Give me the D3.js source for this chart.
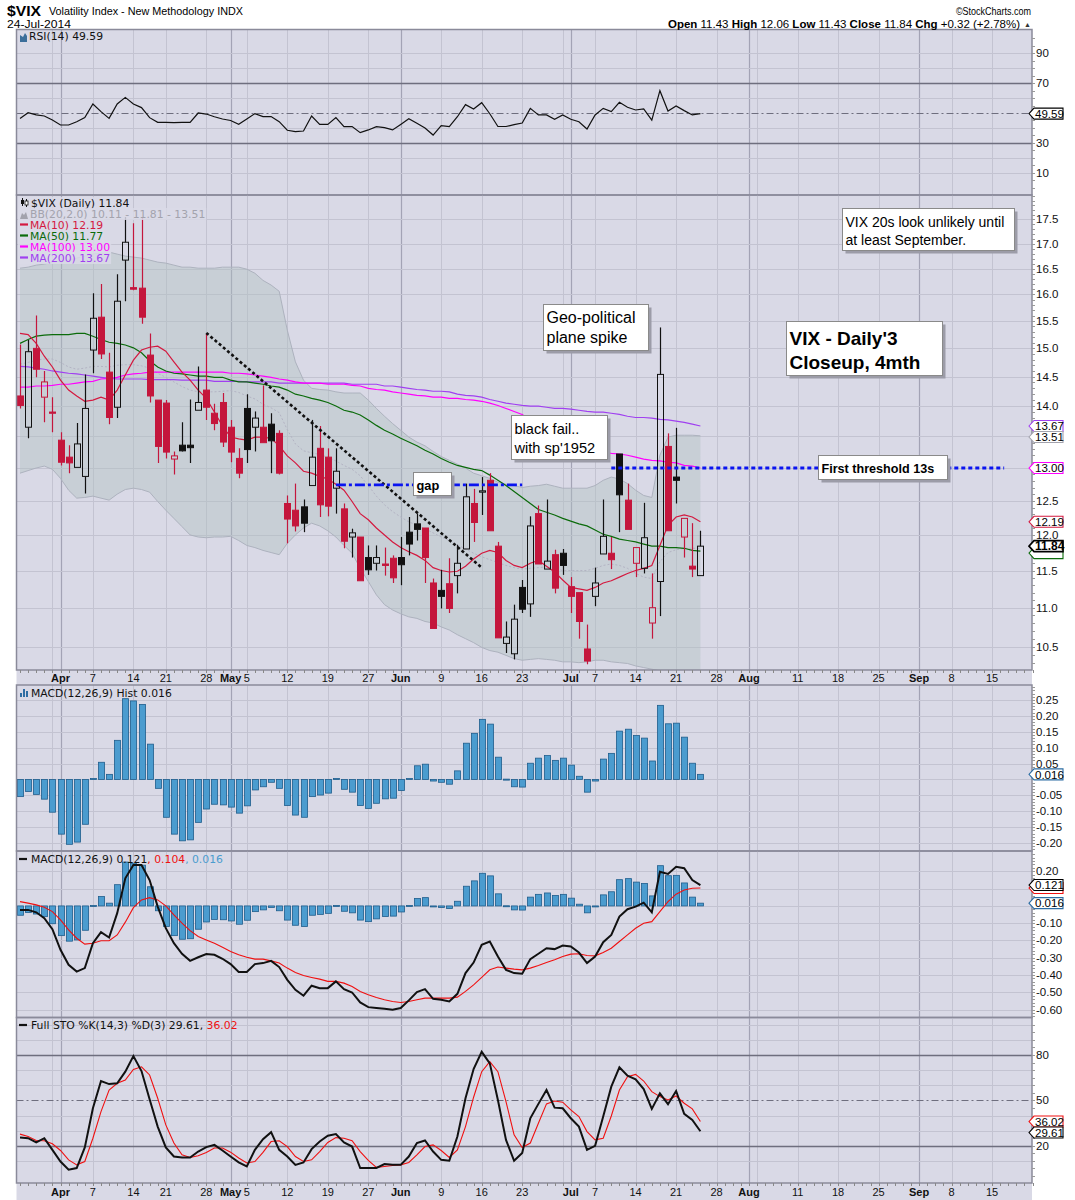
<!DOCTYPE html>
<html>
<head>
<meta charset="utf-8">
<script src="https://cdn.jsdelivr.net/npm/d3@7/dist/d3.min.js"></script>
<style>
body { margin: 0; background: #fff; }
</style>
</head>
<body>
<div id="chart"></div>
<script>
// ---- data (one value per trading day, 25-Mar-2014 .. 24-Jul-2014) ----
var prevClose0 = 14.84;
var opens = [14.17,13.65,15.00,14.15,13.90,13.44,13.17,13.01,12.87,14.97,
  15.57,14.58,13.98,16.67,16.13,16.12,14.88,14.10,14.05,13.14,
  13.36,13.36,13.93,14.27,13.88,14.06,13.65,13.15,13.96,13.65,
  13.65,13.70,13.55,12.46,12.36,12.41,12.73,13.31,13.17,12.69,
  12.38,11.97,11.97,11.68,11.60,11.59,11.67,11.68,12.04,12.16,
  12.10,11.33,11.23,11.32,11.43,11.80,12.46,12.63,12.81,11.84,
  10.54,10.41,11.27,11.05,12.31,11.52,11.72,11.74,11.28,11.20,
  10.47,11.15,11.73,11.74,13.22,12.51,11.60,11.53,10.80,11.35,
  13.34,12.86,11.97,11.56,11.43];
var highs = [15.07,15.15,15.60,14.60,14.15,13.57,13.36,13.72,14.54,16.02,
  16.20,14.92,16.39,17.55,17.42,17.55,15.27,14.10,14.10,13.26,
  13.73,14.11,14.68,15.27,14.04,14.22,13.77,13.31,14.20,13.91,
  14.35,13.88,13.60,12.58,12.76,12.52,13.77,13.67,13.31,13.31,
  12.46,12.09,11.97,11.85,11.85,11.82,11.71,11.97,12.26,12.31,
  12.10,11.39,11.51,11.67,11.86,12.76,12.68,12.86,12.92,11.90,
  10.82,11.04,11.37,12.27,12.43,12.52,11.79,11.80,11.41,11.20,
  10.78,11.54,12.52,11.97,13.22,12.76,11.82,12.47,11.46,15.38,
  13.55,13.64,12.24,12.17,12.06];
var lows = [13.96,13.47,14.49,13.73,13.57,13.04,12.92,13.01,12.61,14.56,
  14.81,13.70,13.80,15.87,16.08,15.45,14.06,13.08,13.15,12.90,
  13.26,13.08,13.93,13.77,13.60,13.33,13.09,12.84,13.08,13.26,
  13.40,12.92,12.90,11.88,12.05,12.04,12.73,12.26,12.27,12.31,
  11.81,11.68,11.36,11.44,11.50,11.43,11.33,11.30,11.71,11.92,
  11.33,10.73,10.99,10.93,11.19,11.80,11.90,12.29,12.06,10.61,
  10.42,10.34,10.93,10.88,11.59,11.52,11.19,11.44,10.93,10.60,
  10.28,11.02,11.73,11.52,12.04,12.08,11.41,11.46,10.60,10.89,
  12.06,12.46,11.68,11.41,11.43];
var closes = [14.01,14.94,14.63,14.41,13.88,13.09,13.08,13.38,13.96,15.55,
  14.90,13.81,15.87,17.03,16.10,15.57,14.17,13.34,13.25,13.19,
  13.27,13.32,14.06,13.98,13.71,13.41,13.25,12.92,13.29,13.80,
  13.40,13.43,12.92,12.23,12.13,12.17,13.17,12.44,12.42,12.95,
  11.91,12.03,11.36,11.51,11.68,11.57,11.40,11.58,11.87,12.08,
  11.68,10.73,11.15,10.99,11.60,12.56,12.18,12.65,12.06,10.61,
  10.62,10.85,10.98,12.13,11.59,11.63,11.26,11.57,11.15,10.82,
  10.32,11.33,11.98,11.65,12.59,12.08,11.82,11.96,11.00,14.54,
  12.06,12.81,12.24,11.52,11.84];

var ma10 = [15.27,15.25,15.09,14.86,14.67,14.44,14.27,14.17,14.08,14.10,
  14.15,14.10,14.27,14.53,14.79,14.97,15.02,15.04,14.95,14.76,
  14.58,14.44,14.27,14.13,13.90,13.67,13.49,13.46,13.44,13.49,
  13.49,13.47,13.35,13.19,13.08,12.95,12.92,12.87,12.83,12.75,
  12.66,12.49,12.31,12.22,12.10,12.00,11.90,11.82,11.76,11.71,
  11.64,11.54,11.50,11.48,11.49,11.56,11.66,11.74,11.78,11.75,
  11.64,11.57,11.54,11.60,11.64,11.56,11.48,11.37,11.27,11.25,
  11.23,11.27,11.33,11.36,11.41,11.46,11.50,11.53,11.57,11.85,
  12.14,12.26,12.29,12.26,12.19];
var ma50 = [15.09,15.16,15.22,15.24,15.25,15.25,15.25,15.27,15.27,15.22,
  15.16,15.11,15.09,15.06,15.01,14.92,14.78,14.67,14.60,14.56,
  14.55,14.53,14.51,14.51,14.49,14.49,14.44,14.41,14.41,14.39,
  14.37,14.34,14.32,14.27,14.20,14.17,14.13,14.10,14.06,14.00,
  13.93,13.90,13.85,13.77,13.68,13.60,13.54,13.47,13.41,13.35,
  13.28,13.22,13.15,13.09,13.04,13.01,12.98,12.96,12.89,12.81,
  12.73,12.64,12.55,12.46,12.37,12.33,12.29,12.24,12.20,12.16,
  12.13,12.07,12.01,11.98,11.94,11.92,11.90,11.87,11.84,11.84,
  11.82,11.82,11.81,11.78,11.77];
var ma100 = [14.32,14.32,14.34,14.34,14.35,14.37,14.37,14.39,14.41,14.42,
  14.46,14.47,14.49,14.53,14.55,14.56,14.58,14.58,14.58,14.58,
  14.58,14.58,14.58,14.58,14.58,14.58,14.56,14.56,14.55,14.53,
  14.51,14.49,14.46,14.44,14.41,14.39,14.39,14.39,14.37,14.37,
  14.37,14.35,14.34,14.30,14.28,14.27,14.24,14.22,14.20,14.18,
  14.17,14.15,14.15,14.13,14.13,14.11,14.10,14.08,14.05,14.01,
  13.96,13.91,13.86,13.77,13.68,13.60,13.54,13.47,13.43,13.36,
  13.30,13.25,13.25,13.23,13.22,13.20,13.17,13.14,13.12,13.11,
  13.09,13.08,13.04,13.03,13.00];
var ma200 = [14.68,14.67,14.65,14.63,14.60,14.58,14.56,14.55,14.53,14.51,
  14.49,14.47,14.46,14.46,14.46,14.46,14.45,14.45,14.45,14.45,
  14.44,14.44,14.44,14.44,14.42,14.42,14.42,14.42,14.41,14.41,
  14.41,14.41,14.39,14.39,14.39,14.39,14.39,14.39,14.39,14.39,
  14.39,14.37,14.37,14.37,14.37,14.34,14.34,14.32,14.30,14.28,
  14.27,14.25,14.25,14.24,14.20,14.18,14.17,14.15,14.11,14.08,
  14.05,14.03,14.01,14.00,14.00,13.98,13.96,13.96,13.95,13.93,
  13.91,13.90,13.90,13.88,13.86,13.83,13.81,13.81,13.80,13.78,
  13.77,13.75,13.73,13.70,13.67];
var bbUpper = [16.51,16.53,16.57,16.59,16.63,16.65,16.67,16.71,16.75,16.79,
  16.81,16.83,16.79,16.75,16.73,16.71,16.67,16.63,16.61,16.57,
  16.53,16.53,16.51,16.51,16.51,16.53,16.53,16.53,16.49,16.41,
  16.27,16.18,16.06,15.33,14.76,14.44,14.30,14.28,14.27,14.24,
  14.22,14.22,14.22,14.10,13.96,13.83,13.71,13.60,13.49,13.41,
  13.35,13.26,13.18,13.12,13.06,13.00,12.92,12.88,12.84,12.78,
  12.75,12.73,12.70,12.72,12.73,12.75,12.72,12.69,12.69,12.69,
  12.69,12.73,12.81,12.86,12.83,12.76,12.66,12.58,12.55,13.20,
  13.49,13.52,13.52,13.52,13.51];
var bbMid = [14.72,14.75,14.79,14.81,14.81,14.75,14.67,14.63,14.65,14.68,
  14.68,14.67,14.70,14.71,14.71,14.69,14.65,14.56,14.49,14.41,
  14.33,14.27,14.24,14.24,14.24,14.25,14.26,14.23,14.17,14.12,
  14.03,13.97,13.89,13.61,13.38,13.27,13.24,13.21,13.17,13.11,
  13.04,12.98,12.88,12.73,12.57,12.44,12.34,12.26,12.19,12.14,
  12.09,12.03,11.97,11.92,11.86,11.80,11.74,11.69,11.65,11.61,
  11.57,11.54,11.52,11.53,11.54,11.55,11.53,11.50,11.50,11.50,
  11.50,11.53,11.57,11.59,11.57,11.53,11.46,11.41,11.39,11.62,
  11.75,11.79,11.81,11.81,11.81];
var bbLower = [12.92,12.96,13.00,13.03,12.98,12.84,12.66,12.54,12.55,12.57,
  12.54,12.51,12.60,12.67,12.69,12.67,12.63,12.49,12.36,12.24,
  12.12,12.00,11.97,11.96,11.97,11.97,11.98,11.92,11.85,11.82,
  11.78,11.75,11.72,11.88,12.00,12.10,12.17,12.13,12.06,11.97,
  11.85,11.74,11.53,11.35,11.17,11.04,10.97,10.92,10.88,10.86,
  10.82,10.80,10.75,10.71,10.65,10.60,10.55,10.49,10.45,10.43,
  10.39,10.35,10.33,10.34,10.35,10.34,10.33,10.31,10.31,10.30,
  10.31,10.33,10.33,10.31,10.30,10.29,10.26,10.24,10.22,10.20,
  10.17,10.15,10.13,10.12,10.11];

var rsi = [46.4,50.2,48.7,48.0,45.3,42.0,42.0,44.2,46.9,56.0,
  50.9,46.4,56.0,60.4,56.0,53.6,46.9,43.8,43.8,43.6,
  43.8,43.8,50.0,49.3,47.5,46.0,45.0,42.5,46.0,49.6,
  47.6,47.6,44.2,38.5,37.6,38.0,48.0,42.4,42.4,47.0,
  40.9,40.9,36.9,38.7,40.9,40.2,38.7,42.4,46.2,43.1,
  40.0,35.3,41.6,40.9,47.5,55.6,52.7,56.9,49.5,41.0,
  41.0,42.2,43.3,53.1,48.7,48.7,45.8,48.7,45.8,44.2,
  39.3,48.7,53.1,50.9,57.1,53.8,52.0,52.7,45.3,64.9,
  51.3,54.7,51.6,48.7,49.59];

var macdHist = [-0.054,-0.038,-0.047,-0.062,-0.103,-0.172,-0.204,-0.197,-0.141,0.003,
  0.054,0.016,0.123,0.254,0.247,0.236,0.111,-0.028,-0.119,-0.172,
  -0.193,-0.190,-0.135,-0.093,-0.078,-0.080,-0.087,-0.106,-0.083,-0.033,
  -0.023,-0.009,-0.028,-0.082,-0.112,-0.119,-0.054,-0.049,-0.043,0.003,
  -0.031,-0.040,-0.082,-0.091,-0.075,-0.061,-0.059,-0.035,0.003,0.043,
  0.048,-0.005,-0.009,-0.015,0.027,0.114,0.145,0.189,0.174,0.070,
  0.001,-0.023,-0.024,0.051,0.067,0.075,0.060,0.067,0.045,0.010,
  -0.040,-0.005,0.064,0.082,0.152,0.158,0.138,0.130,0.058,0.233,
  0.175,0.177,0.133,0.051,0.016];
var macdLine = [-0.023,-0.023,-0.037,-0.071,-0.135,-0.254,-0.341,-0.380,-0.360,-0.216,
  -0.152,-0.183,-0.042,0.160,0.237,0.237,0.150,-0.004,-0.129,-0.216,
  -0.277,-0.318,-0.297,-0.279,-0.283,-0.306,-0.337,-0.383,-0.383,-0.337,
  -0.331,-0.318,-0.354,-0.428,-0.486,-0.520,-0.462,-0.476,-0.476,-0.437,
  -0.482,-0.501,-0.559,-0.586,-0.591,-0.595,-0.601,-0.591,-0.547,-0.499,
  -0.482,-0.538,-0.543,-0.553,-0.509,-0.389,-0.328,-0.225,-0.206,-0.293,
  -0.370,-0.389,-0.393,-0.308,-0.277,-0.245,-0.250,-0.229,-0.235,-0.270,
  -0.331,-0.293,-0.210,-0.168,-0.062,-0.019,-0.004,0.019,-0.037,0.198,
  0.185,0.227,0.218,0.150,0.121];
var macdSignal = [0.025,0.016,0.006,-0.008,-0.033,-0.081,-0.139,-0.187,-0.221,-0.216,
  -0.202,-0.202,-0.168,-0.094,-0.010,0.035,0.048,0.035,0.000,-0.052,
  -0.100,-0.143,-0.177,-0.197,-0.216,-0.239,-0.264,-0.283,-0.297,-0.308,
  -0.308,-0.318,-0.331,-0.360,-0.385,-0.403,-0.414,-0.424,-0.437,-0.437,
  -0.447,-0.466,-0.495,-0.514,-0.530,-0.543,-0.553,-0.559,-0.553,-0.543,
  -0.534,-0.534,-0.534,-0.534,-0.528,-0.495,-0.457,-0.414,-0.370,-0.354,
  -0.360,-0.366,-0.370,-0.360,-0.345,-0.328,-0.312,-0.293,-0.279,-0.277,
  -0.287,-0.289,-0.270,-0.245,-0.206,-0.168,-0.129,-0.100,-0.091,-0.033,
  0.025,0.068,0.092,0.102,0.104];

var stoK = [25.4,25.0,22.2,25.0,17.3,9.6,4.2,5.3,18.9,44.8,
  62.8,60.8,61.3,69.0,79.3,69.4,50.8,32.7,18.9,12.9,
  12.3,12.3,16.2,19.1,20.6,16.9,12.9,9.0,6.3,17.3,
  24.4,29.0,17.3,12.9,7.4,9.0,17.8,22.8,26.6,27.7,
  22.2,19.5,5.3,5.3,5.3,7.9,7.4,7.4,12.9,21.8,
  23.5,16.2,10.7,10.1,26.1,51.4,70.7,82.1,74.5,50.3,
  23.9,10.1,15.2,38.2,47.7,56.9,45.2,44.8,38.2,32.7,
  17.3,20.0,39.3,59.1,71.9,66.3,63.9,57.5,44.4,54.7,
  47.5,56.2,41.1,37.1,29.61];
var stoD = [27.7,26.1,23.5,23.3,21.3,16.9,10.7,7.4,9.6,25.0,
  42.6,56.9,61.3,63.5,70.5,72.2,66.8,51.4,33.8,21.8,
  14.0,12.3,13.4,15.6,18.5,18.5,15.8,11.9,8.6,9.6,
  15.6,22.8,23.3,19.5,12.9,9.6,10.7,16.2,22.2,25.4,
  25.0,23.3,16.2,10.3,5.7,6.3,7.0,7.4,9.0,14.0,
  19.5,20.6,16.9,12.3,17.3,32.7,52.1,69.0,75.6,69.0,
  49.2,27.2,18.9,21.8,34.9,47.7,49.6,48.8,43.7,39.3,
  29.4,23.9,25.0,39.7,56.9,65.7,67.2,62.8,55.8,52.5,
  50.3,52.9,48.1,44.4,36.02];

// x axis: trading-day index (0 = 25-Mar), runs on past the data to 22-Sep
var tickIdx  = [5,9,14,18,23,26,28,33,38,43,47,52,57,62,68,71,76,81,86,90,96,101,106,111,115,120];
var tickText = ["Apr","7","14","21","28","May","5","12","19","27","Jun","9","16","23","Jul","7","14","21","28","Aug","11","18","25","Sep","8","15"];
var weekLines  = [4,9,14,18,23,28,33,38,43,47,52,57,62,67,71,76,81,86,91,96,101,106,111,115,120];
var monthLines = [5,26,47,68,90,111];

// axis labels (13.0 and 13.5 sit under value tags in the original)
var priceTicks = [10.5,11.0,11.5,12.0,12.5,14.0,14.5,15.0,15.5,16.0,16.5,17.0,17.5];
var priceGrid = [10.5,11.0,11.5,12.0,12.5,13.0,13.5,14.0,14.5,15.0,15.5,16.0,16.5,17.0,17.5];
var rsiTicks = [10,30,70,90];
var histTicks = [-0.20,-0.15,-0.10,-0.05,0.05,0.10,0.15,0.20,0.25];
var histGrid = [-0.20,-0.15,-0.10,-0.05,0.00,0.05,0.10,0.15,0.20,0.25];
var macdTicks = [-0.60,-0.50,-0.40,-0.30,-0.20,-0.10,0.20];
var macdGrid = [-0.60,-0.50,-0.40,-0.30,-0.20,-0.10,0.00,0.10,0.20];
var stoTicks = [20,50,80];

// ---- layout ----
var W = 1075, H = 1200;
var L = 16.5, R = 1032;
var bg = "#d9d9e6", gridC = "#c3c3d1", monthC = "#a3a3b5", frameC = "#8a8a9a";
var redC = "#c4163c", blueBar = "#4b9ccf", blueEdge = "#1f5d8c";
var sans = "Liberation Sans, Arial, sans-serif";

var svg = d3.select("#chart").append("svg").attr("width", W).attr("height", H)
  .attr("font-family", "DejaVu Sans, Verdana, sans-serif");
svg.append("rect").attr("width", W).attr("height", H).attr("fill", "#fff");
svg.append("rect").attr("x", L).attr("y", 29.5).attr("width", R - L).attr("height", H - 29.5).attr("fill", bg);

var x = d3.scaleLinear().domain([0, 125]).range([20, 1032.5]);
var yRsi = d3.scaleLinear().domain([-4.7, 105.7]).range([195, 29.5]);
var yPx = d3.scaleLog().domain([10.21, 18.02]).range([670, 195]);
var yHist = d3.scaleLinear().domain([-0.225, 0.297]).range([851, 685]);
var yMacd = d3.scaleLinear().domain([-0.646, 0.318]).range([1017.5, 851]);
var ySto = d3.scaleLinear().domain([-4.6, 104.8]).range([1183, 1017.5]);

function panel(name, top, bottom) {
  svg.append("clipPath").attr("id", "clip-" + name)
    .append("rect").attr("x", L).attr("y", top).attr("width", R - L).attr("height", bottom - top);
  var g = svg.append("g").attr("clip-path", "url(#clip-" + name + ")");
  g.selectAll("line.wk").data(weekLines).enter().append("line")
    .attr("x1", function(d) { return Math.round(x(d)) + 0.5; })
    .attr("x2", function(d) { return Math.round(x(d)) + 0.5; })
    .attr("y1", top).attr("y2", bottom)
    .attr("stroke", gridC).attr("stroke-width", 1);
  g.selectAll("line.mo").data(monthLines).enter().append("line")
    .attr("x1", function(d) { return Math.round(x(d)) + 0.5; })
    .attr("x2", function(d) { return Math.round(x(d)) + 0.5; })
    .attr("y1", top).attr("y2", bottom)
    .attr("stroke", monthC).attr("stroke-width", 1.2);
  return g;
}

function hgrid(g, scale, values, color, width, dash) {
  g.selectAll(null).data(values).enter().append("line")
    .attr("x1", L).attr("x2", R)
    .attr("y1", function(d) { return Math.round(scale(d)) + 0.5; })
    .attr("y2", function(d) { return Math.round(scale(d)) + 0.5; })
    .attr("stroke", color).attr("stroke-width", width)
    .attr("stroke-dasharray", dash || null);
}

function axisLabels(scale, values, fmt, minor) {
  svg.selectAll(null).data(minor).enter().append("line")
    .attr("x1", R).attr("x2", R + 3)
    .attr("y1", function(d) { return Math.round(scale(d)) + 0.5; })
    .attr("y2", function(d) { return Math.round(scale(d)) + 0.5; })
    .attr("stroke", "#999").attr("stroke-width", 1);
  svg.selectAll(null).data(values).enter().append("text")
    .attr("x", R + 4).attr("y", function(d) { return scale(d) + 4; })
    .attr("font-family", sans)
    .attr("font-size", "11.5px").attr("fill", "#111")
    .text(fmt);
}

function frame(top, bottom) {
  svg.append("rect").attr("x", L).attr("y", top).attr("width", R - L).attr("height", bottom - top)
    .attr("fill", "none").attr("stroke", frameC).attr("stroke-width", 1.5);
}

function xLabels(yBase, top) {
  svg.selectAll(null).data(d3.range(0, 126)).enter().append("line")
    .attr("x1", function(d) { return Math.round(x(d)) + 0.5; })
    .attr("x2", function(d) { return Math.round(x(d)) + 0.5; })
    .attr("y1", top).attr("y2", top + 3)
    .attr("stroke", "#888").attr("stroke-width", 1);
  svg.selectAll(null).data(tickIdx).enter().append("text")
    .attr("x", function(d) { return x(d); })
    .attr("y", yBase)
    .attr("text-anchor", "middle")
    .attr("font-family", sans)
    .attr("font-size", "11px")
    .attr("font-weight", function(d, i) { return isNaN(+tickText[i]) ? "bold" : "normal"; })
    .attr("fill", "#111")
    .text(function(d, i) { return tickText[i]; });
}

function tag(y, label, color, bold) {
  svg.append("path")
    .attr("d", "M1029," + y + "L1034," + (y - 5.5) + "L1063," + (y - 5.5) + "L1063," + (y + 5.5) + "L1034," + (y + 5.5) + "Z")
    .attr("fill", "#fff").attr("stroke", color).attr("stroke-width", bold ? 1.6 : 1.1);
  if (label) {
    svg.append("text").attr("x", 1035).attr("y", y + 4.2)
      .attr("font-family", sans)
      .attr("font-size", bold ? "12px" : "11.5px").attr("font-weight", bold ? "bold" : "normal")
      .attr("fill", "#000").text(label);
  }
}

function legend(xp, yp, parts, withBg) {
  var t = svg.append("text").attr("x", xp).attr("y", yp).attr("font-size", "10.8px");
  parts.forEach(function(p) { t.append("tspan").attr("fill", p[1]).text(p[0]); });
  if (withBg) {
    var bb = t.node().getBBox();
    svg.insert("rect", function() { return t.node(); })
      .attr("x", bb.x - 12).attr("y", bb.y + 0.5).attr("width", bb.width + 13).attr("height", bb.height - 1)
      .attr("fill", bg).attr("opacity", 0.85);
  }
  return t;
}

function dash(xp, yp, color) {
  svg.append("line").attr("x1", xp).attr("x2", xp + 8).attr("y1", yp).attr("y2", yp)
    .attr("stroke", color).attr("stroke-width", 2.2);
}

var idx = function(d, i) { return x(i); };

// ---- RSI panel ----
var gR = panel("rsi", 29.5, 195);
hgrid(gR, yRsi, [10,20,40,60,80,90], gridC, 1);
hgrid(gR, yRsi, [30,70], "#6e6e7e", 1.4);
hgrid(gR, yRsi, [50], "#6e6e7e", 1, "7,3,2,3");
gR.append("path").datum(rsi)
  .attr("d", d3.line().x(idx).y(function(d) { return yRsi(d); }))
  .attr("fill", "none").attr("stroke", "#111").attr("stroke-width", 1.2);
frame(29.5, 195);
axisLabels(yRsi, rsiTicks, function(d) { return d; }, d3.range(0, 101, 5));
svg.append("path").attr("d", "M20,42 L20,35 L23,37 L25,33 L27,36 L27,42 Z").attr("fill", "#3b6e9a");
legend(29, 39.5, [["RSI(14) 49.59", "#111"]], false);

// ---- price panel ----
var gP = panel("main", 195, 670);
hgrid(gP, yPx, priceGrid, gridC, 1);
gP.append("path").datum(bbUpper)
  .attr("d", d3.area().x(idx)
    .y0(function(d, i) { return yPx(bbLower[i]); })
    .y1(function(d) { return yPx(d); }))
  .attr("fill", "rgb(176,194,192)").attr("opacity", 0.42);
[bbUpper, bbLower].forEach(function(arr) {
  gP.append("path").datum(arr)
    .attr("d", d3.line().x(idx).y(function(d) { return yPx(d); }))
    .attr("fill", "none").attr("stroke", "#adb2be").attr("stroke-width", 1);
});
gP.append("path").datum(bbMid)
  .attr("d", d3.line().x(idx).y(function(d) { return yPx(d); }))
  .attr("fill", "none").attr("stroke", "#b3b3c3").attr("stroke-width", 1).attr("stroke-dasharray", "2,2");

var maSeries = [[ma200, "#a040f0"], [ma100, "#ff00ff"], [ma50, "#0b6b0b"], [ma10, "#d4193f"]];
maSeries.forEach(function(m) {
  gP.append("path").datum(m[0])
    .attr("d", d3.line().x(idx).y(function(d) { return yPx(d); }))
    .attr("fill", "none").attr("stroke", m[1]).attr("stroke-width", 1.2);
});

// candles
var candles = gP.selectAll("g.candle").data(closes).enter().append("g");
candles.each(function(c, i) {
  var g = d3.select(this);
  var pc = i === 0 ? prevClose0 : closes[i - 1];
  var col = c < pc ? redC : "#111";
  var filled = c < opens[i];
  var xc = Math.round(x(i)) + 0.5;
  var yTop = yPx(Math.max(opens[i], c)), yBot = yPx(Math.min(opens[i], c));
  if (yBot - yTop < 1) { yBot = yTop + 1; }
  g.append("line").attr("x1", xc).attr("x2", xc).attr("y1", yPx(highs[i])).attr("y2", yTop)
    .attr("stroke", col).attr("stroke-width", 1.2);
  g.append("line").attr("x1", xc).attr("x2", xc).attr("y1", yBot).attr("y2", yPx(lows[i]))
    .attr("stroke", col).attr("stroke-width", 1.2);
  g.append("rect").attr("x", xc - 3).attr("y", yTop).attr("width", 6).attr("height", yBot - yTop)
    .attr("fill", filled ? col : "none").attr("stroke", col).attr("stroke-width", 1);
});

// drawn lines
gP.append("line")
  .attr("x1", x(23)).attr("y1", yPx(15.28)).attr("x2", x(57)).attr("y2", yPx(11.54))
  .attr("stroke", "#111").attr("stroke-width", 2.6).attr("stroke-dasharray", "3,2.5");
gP.append("line")
  .attr("x1", x(39)).attr("y1", yPx(12.74)).attr("x2", x(62)).attr("y2", yPx(12.74))
  .attr("stroke", "#0a14f0").attr("stroke-width", 2.6).attr("stroke-dasharray", "10,3,3,3");
gP.append("line")
  .attr("x1", x(73)).attr("y1", yPx(13.0)).attr("x2", x(121.5)).attr("y2", yPx(13.0))
  .attr("stroke", "#0a14f0").attr("stroke-width", 3).attr("stroke-dasharray", "4,3");

function note(x0, y0, w, h, lines, size, weight) {
  svg.append("rect").attr("x", x0 + 3).attr("y", y0 + 3).attr("width", w).attr("height", h).attr("fill", "#9c9ca8");
  svg.append("rect").attr("x", x0).attr("y", y0).attr("width", w).attr("height", h)
    .attr("fill", "#fff").attr("stroke", "#8a8a8a").attr("stroke-width", 1);
  lines.forEach(function(l) {
    svg.append("text").attr("x", x0 + 3).attr("y", l[1])
      .attr("font-family", sans)
      .attr("font-size", size + "px").attr("font-weight", weight).attr("fill", "#000")
      .text(l[0]);
  });
}
note(842.5, 208.5, 172, 42, [["VIX 20s look unlikely until", 226.5], ["at least September.", 244.5]], 14, "normal");
note(786.5, 321.5, 156, 54, [["VIX - Daily'3", 344.5], ["Closeup, 4mth", 368.5]], 19, "bold");
note(818.5, 455.5, 129, 24, [["First threshold 13s", 472.5]], 12.6, "bold");
note(543.5, 304.5, 105, 46, [["Geo-political", 323], ["plane spike", 342.5]], 16, "normal");
note(511.5, 415.5, 96, 44, [["black fail..", 433.5], ["with sp'1952", 452.5]], 14.6, "normal");
note(413.5, 472.5, 38, 23, [["gap", 489.5]], 12.8, "bold");

frame(195, 670);
axisLabels(yPx, priceTicks, function(d) { return d.toFixed(1); }, d3.range(103, 181).map(function(v) { return v / 10; }));
xLabels(682, 670);

// price legend
legend(31, 206.5, [["$VIX (Daily) 11.84", "#111"]], true);
svg.append("line").attr("x1", 22.5).attr("x2", 22.5).attr("y1", 198).attr("y2", 206).attr("stroke", "#111");
svg.append("rect").attr("x", 21).attr("y", 200).attr("width", 3).attr("height", 4).attr("fill", "#111");
svg.append("line").attr("x1", 26.5).attr("x2", 26.5).attr("y1", 199).attr("y2", 207).attr("stroke", "#111");
svg.append("rect").attr("x", 25).attr("y", 201).attr("width", 3).attr("height", 4).attr("fill", "#fff").attr("stroke", "#111").attr("stroke-width", 0.8);
legend(30, 217.5, [["BB(20,2.0) 10.11 - 11.81 - 13.51", "#a3a3ad"]], true);
svg.append("path").attr("d", "M20,219 L22,213 L24,215 L26,212 L28,219 Z").attr("fill", "#a3a3ad");
var maLegend = [["MA(10) 12.19", "#d4193f"], ["MA(50) 11.77", "#0b6b0b"], ["MA(100) 13.00", "#ff00ff"], ["MA(200) 13.67", "#a040f0"]];
maLegend.forEach(function(m, k) {
  legend(30, 228.5 + k * 11, [[m[0], m[1]]], true);
  dash(20, 224.5 + k * 11, m[1]);
});

var t1367 = yPx(13.67);
tag(t1367, "13.67", "#a040f0", false);
tag(Math.max(yPx(13.51), t1367 + 11), "13.51", "#a3a3ad", false);
tag(yPx(13.00), "13.00", "#ff00ff", false);
tag(yPx(12.19), "12.19", "#d4193f", false);
tag(yPx(11.77) + 2, null, "#0b6b0b", false);
tag(yPx(11.84), "11.84", "#000", true);

// ---- MACD histogram panel ----
var gH = panel("hist", 685, 851);
hgrid(gH, yHist, histGrid, gridC, 1);
gH.selectAll("rect.bar").data(macdHist).enter().append("rect")
  .attr("x", function(d, i) { return Math.round(x(i)) - 2.5; })
  .attr("width", 6)
  .attr("y", function(d) { return Math.min(yHist(d), yHist(0)); })
  .attr("height", function(d) { return Math.max(1, Math.abs(yHist(d) - yHist(0))); })
  .attr("fill", blueBar).attr("stroke", blueEdge).attr("stroke-width", 0.8);
frame(685, 851);
axisLabels(yHist, histTicks, function(d) { return d.toFixed(2); }, d3.range(-22, 30, 1).map(function(v) { return v / 100; }));
[0, 3, 6].forEach(function(o, k) {
  svg.append("rect").attr("x", 20 + o).attr("y", 689 + [4, 0, 2][k]).attr("width", 2).attr("height", 8 - [4, 0, 2][k]).attr("fill", "#2d6da3");
});
legend(31, 697, [["MACD(12,26,9) Hist 0.016", "#111"]], false);
tag(yHist(0.016), "0.016", "#2d6da3", false);

// ---- MACD panel ----
var gM = panel("macd", 851, 1017.5);
hgrid(gM, yMacd, macdGrid, gridC, 1);
gM.selectAll("rect.bar").data(macdHist).enter().append("rect")
  .attr("x", function(d, i) { return Math.round(x(i)) - 2.5; })
  .attr("width", 6)
  .attr("y", function(d) { return Math.min(yMacd(d), yMacd(0)); })
  .attr("height", function(d) { return Math.max(1, Math.abs(yMacd(d) - yMacd(0))); })
  .attr("fill", blueBar).attr("stroke", blueEdge).attr("stroke-width", 0.8);
gM.append("path").datum(macdSignal)
  .attr("d", d3.line().x(idx).y(function(d) { return yMacd(d); }))
  .attr("fill", "none").attr("stroke", "#f01010").attr("stroke-width", 1.1);
gM.append("path").datum(macdLine)
  .attr("d", d3.line().x(idx).y(function(d) { return yMacd(d); }))
  .attr("fill", "none").attr("stroke", "#111").attr("stroke-width", 2);
frame(851, 1017.5);
axisLabels(yMacd, macdTicks, function(d) { return d.toFixed(2); },
  d3.range(-64, 32, 2).map(function(v) { return v / 100; }));
dash(19, 859, "#111");
legend(31, 863, [["MACD(12,26,9) 0.121", "#111"], [", 0.104", "#f01010"], [", 0.016", "#4b9ccf"]], false);
tag(yMacd(0.121) + 3, null, "#f01010", false);
tag(yMacd(0.121), "0.121", "#000", false);
tag(yMacd(0.016), "0.016", "#2d6da3", false);

// ---- Full stochastics panel ----
var gS = panel("sto", 1017.5, 1183);
hgrid(gS, ySto, [10,30,40,60,70,90,100], gridC, 1);
hgrid(gS, ySto, [20,80], "#6e6e7e", 1.4);
hgrid(gS, ySto, [50], "#6e6e7e", 1, "7,3,2,3");
gS.append("path").datum(stoD)
  .attr("d", d3.line().x(idx).y(function(d) { return ySto(d); }))
  .attr("fill", "none").attr("stroke", "#f01010").attr("stroke-width", 1.1);
gS.append("path").datum(stoK)
  .attr("d", d3.line().x(idx).y(function(d) { return ySto(d); }))
  .attr("fill", "none").attr("stroke", "#111").attr("stroke-width", 2);
frame(1017.5, 1183);
axisLabels(ySto, stoTicks, function(d) { return d; }, d3.range(0, 105, 5));
xLabels(1196, 1183);
dash(19, 1025, "#111");
legend(31, 1029, [["Full STO %K(14,3) %D(3) 29.61,", "#111"], [" 36.02", "#f01010"]], false);
var t3602 = ySto(36.02);
tag(t3602, "36.02", "#f01010", false);
tag(Math.max(ySto(29.61), t3602 + 11), "29.61", "#000", false);
tag(yRsi(49.59), "49.59", "#000", false);

// ---- header ----
var narrow = "Liberation Sans Narrow, Liberation Sans, Arial, sans-serif";
svg.append("text").attr("x", 7).attr("y", 16).attr("font-family", narrow).attr("font-weight", "bold")
  .attr("font-size", "14px").attr("textLength", 34).attr("lengthAdjust", "spacingAndGlyphs").text("$VIX");
svg.append("text").attr("x", 49).attr("y", 15).attr("font-family", narrow)
  .attr("font-size", "10.5px").attr("textLength", 194).attr("lengthAdjust", "spacingAndGlyphs")
  .text("Volatility Index - New Methodology  INDX");
svg.append("text").attr("x", 7).attr("y", 27.5).attr("font-family", narrow)
  .attr("font-size", "10.5px").attr("textLength", 64).attr("lengthAdjust", "spacingAndGlyphs").text("24-Jul-2014");
svg.append("text").attr("x", 956).attr("y", 15).attr("font-family", narrow)
  .attr("font-size", "10.5px").attr("textLength", 75).attr("lengthAdjust", "spacingAndGlyphs").text("\u00a9StockCharts.com");
var hdr = svg.append("text").attr("x", 668).attr("y", 27.5).attr("font-family", narrow)
  .attr("font-size", "11px").attr("textLength", 352).attr("lengthAdjust", "spacingAndGlyphs");
[["Open", true], [" 11.43  ", false], ["High", true], [" 12.06  ", false], ["Low", true], [" 11.43  ", false],
 ["Close", true], [" 11.84  ", false], ["Chg", true], [" +0.32 (+2.78%)", false]].forEach(function(p) {
  hdr.append("tspan").attr("font-weight", p[1] ? "bold" : "normal").text(p[0]);
});
svg.append("text").attr("x", 1024).attr("y", 27).attr("font-family", sans).attr("font-size", "7px").attr("fill", "#333").text("\u25b2");
</script>
</body>
</html>
